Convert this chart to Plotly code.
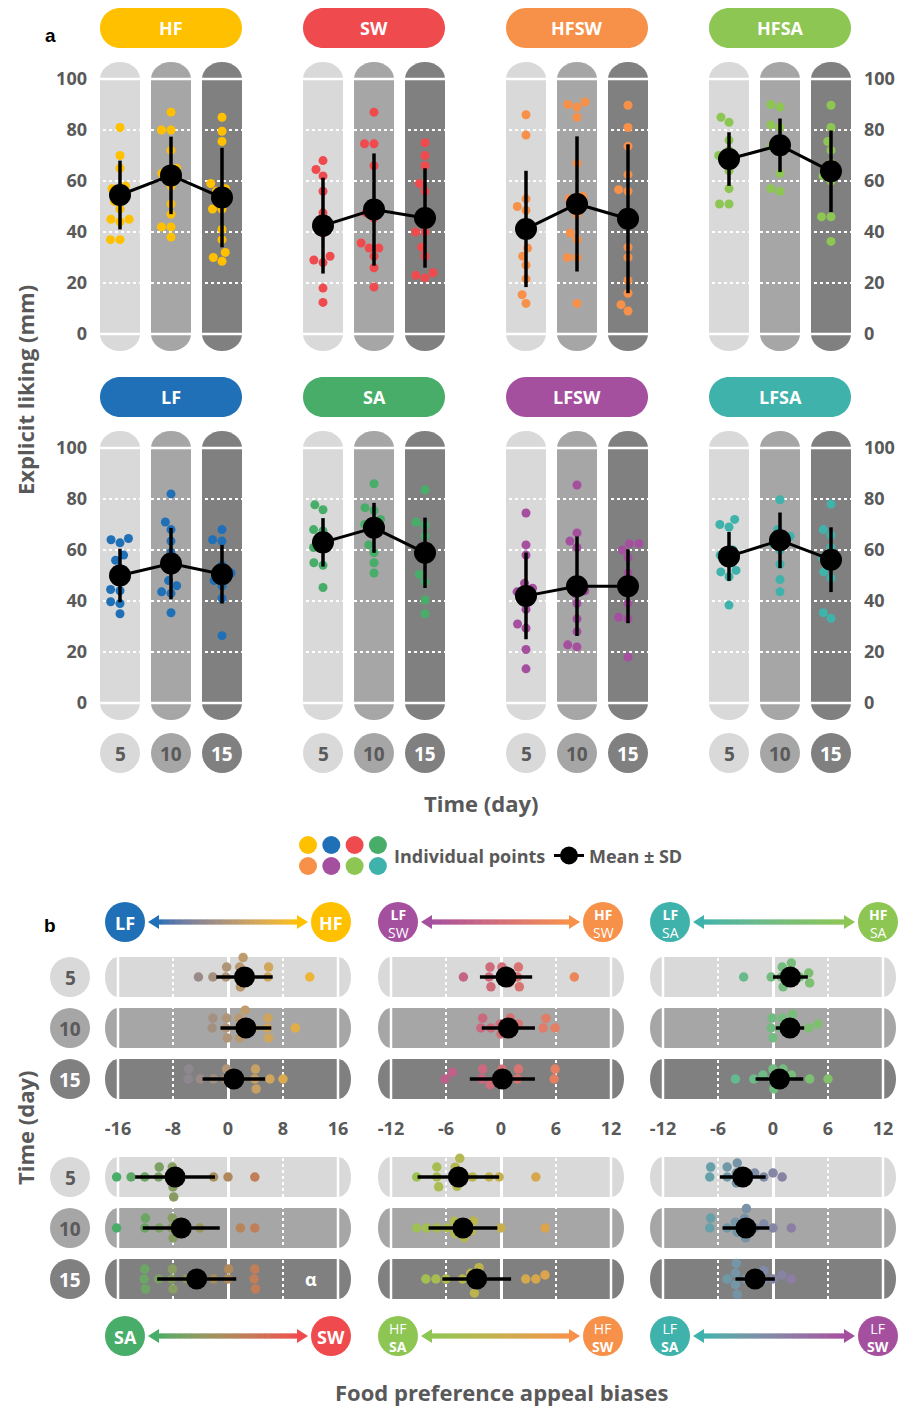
import math
import plotly.graph_objects as go

# ------------------------------------------------------------------
# Data
# ------------------------------------------------------------------
days = [5, 10, 15]
groups = ["HF", "SW", "HFSW", "HFSA", "LF", "SA", "LFSW", "LFSA"]
group_colors = ["#FFC000", "#EF4B4F", "#F7914A", "#8DC653",
                "#1F70B6", "#48AD69", "#A54F9F", "#3FB3AB"]

# (a) explicit liking (mm): individual points per day (5, 10, 15)
HF_points = [[81, 70, 65, 58, 57, 55, 52, 49, 45, 45, 44, 37, 37],
             [87, 80, 80, 72, 65, 63, 62, 58, 51, 47, 42, 42, 38],
             [85, 79.5, 75.5, 59, 57, 56, 53, 49, 49, 41, 37, 32, 30, 28.5]]
HF_mean = [54.5, 62.2, 53.5]
HF_sd = [13.5, 15.2, 19.5]

SW_points = [[68, 64.5, 62, 56, 47.5, 43, 39.6, 30.5, 29, 28, 18, 12.4],
             [87, 74.6, 74.6, 66, 47.5, 45.5, 35.7, 33.7, 33.7, 30.5, 26, 18.4],
             [75, 70, 66, 59, 56, 40, 40, 34, 30.5, 24, 23, 22]]
SW_mean = [42.5, 48.8, 45.5]
SW_sd = [18.8, 22.0, 19.5]

HFSW_points = [[86, 78, 53, 50, 48.5, 40, 33.7, 30.5, 27, 21.6, 15.4, 12],
               [91, 90, 89, 85, 67, 54, 53, 51, 47, 39.6, 37, 30, 30, 12],
               [89.7, 81, 73.6, 62.5, 56.6, 56, 34, 30, 21, 16, 11.5, 9]]
HFSW_mean = [41.2, 51.0, 45.2]
HFSW_sd = [22.8, 26.5, 29.2]

HFSA_points = [[85, 83, 76, 72, 70, 68, 67.5, 64, 57, 51, 51],
               [90, 89, 82, 81, 75, 73.6, 72, 63, 57, 56],
               [89.7, 81, 75.5, 72, 67, 63, 62, 60, 46, 46, 36.3]]
HFSA_mean = [68.6, 74.0, 63.8]
HFSA_sd = [10.5, 10.5, 16.0]

LF_points = [[64, 64.5, 62.8, 58, 56, 52.7, 44.5, 44, 39.7, 39, 35],
             [82, 71, 68, 63.5, 59, 52, 48, 46, 43.6, 43, 35.4],
             [68, 64, 63.5, 54, 51, 50, 48, 46, 41, 26.4]]
LF_mean = [50.0, 54.7, 50.5]
LF_sd = [10.5, 14.0, 11.5]

SA_points = [[77.7, 75.8, 68, 67.5, 64, 61, 60.5, 55, 54, 45.3],
             [86, 76.6, 75.5, 72, 70, 69.3, 62, 58.9, 55, 51],
             [83.6, 71, 69.7, 65.5, 59, 50.5, 47.5, 40.4, 35]]
SA_mean = [63.0, 68.7, 58.9]
SA_sd = [9.5, 9.8, 13.8]

LFSW_points = [[74.5, 62, 58, 47, 45, 43.6, 42.3, 36.7, 31, 29.3, 21, 13.4],
               [85.5, 66.7, 63.5, 61, 44, 42.7, 39, 33, 28, 22.8, 22],
               [62.5, 62.5, 60, 57, 51, 44, 39, 33.6, 33, 18]]
LFSW_mean = [42.0, 45.8, 45.8]
LFSW_sd = [17.0, 19.5, 14.5]

LFSA_points = [[72, 70, 69, 60, 58, 56.6, 52, 51.4, 49.5, 38.4],
               [79.7, 68, 65.4, 64.5, 62.5, 60, 54.4, 48.4, 43.6],
               [78, 68, 65.8, 61, 56.6, 54.7, 51.4, 49, 35.4, 33.2]]
LFSA_mean = [57.5, 63.8, 56.2]
LFSA_sd = [9.6, 10.9, 12.7]

# (b) food preference appeal biases, per day (5, 10, 15)
LF_HF_points = [[-4.3, -2.2, -0.3, -0.2, 1.7, 1.7, 1.8, 2.2, 3.0, 5.8, 5.9, 11.9],
                [-2.3, -2.2, -0.3, -0.2, -0.1, 1.5, 1.6, 1.7, 2.5, 3.7, 5.7, 5.8, 5.9, 9.8],
                [-5.8, -5.7, -4.0, -2.1, -0.3, -0.2, 1.7, 3.9, 4.0, 4.1, 6.1, 8.0]]
LF_HF_mean = [2.4, 2.6, 0.85]
LF_HF_sd = [4.1, 3.7, 4.55]

LFSW_HFSW_points = [[-4.1, -1.3, -1.2, -1.1, 0.0, 0.1, 0.9, 1.8, 1.9, 2.0, 8.0],
                    [-2.2, -2.0, -1.1, -0.1, 0.0, 0.9, 1.0, 1.9, 4.6, 4.9, 5.9],
                    [-6.1, -5.3, -2.1, -2.0, -1.2, -0.1, 0.1, 1.8, 1.9, 5.8, 5.9]]
LFSW_HFSW_mean = [0.55, 0.8, 0.15]
LFSW_HFSW_sd = [2.85, 2.9, 3.55]

LFSA_HFSA_points = [[-3.2, -0.2, 0.9, 1.0, 1.1, 1.9, 2.0, 2.9, 3.9, 4.0],
                    [-0.2, -0.1, 0.0, 0.9, 1.0, 1.9, 2.0, 2.1, 3.9, 4.9],
                    [-4.1, -2.1, -1.1, -0.1, 0.0, 0.1, 1.0, 1.1, 2.0, 4.0, 6.0]]
LFSA_HFSA_mean = [1.9, 1.85, 0.7]
LFSA_HFSA_sd = [1.9, 1.55, 2.6]

SA_SW_points = [[-16.2, -14.1, -12.1, -10.1, -10.0, -8.2, -8.1, -8.0, -7.9, -2.1, 0.0, 3.9],
                [-16.2, -12.1, -12.0, -10.0, -8.2, -8.1, -8.0, -6.0, -4.1, 1.8, 3.9],
                [-12.2, -12.1, -12.0, -10.1, -8.2, -8.1, -8.0, -6.0, -2.1, 0.0, 0.1, 3.8, 3.9, 4.0]]
SA_SW_mean = [-7.7, -6.8, -4.55]
SA_SW_sd = [5.8, 5.6, 5.75]

HFSA_HFSW_points = [[-9.2, -7.0, -7.0, -6.8, -5.2, -5.0, -4.8, -4.5, -3.1, -1.3, -0.2, 3.8],
                    [-9.2, -8.1, -7.0, -5.9, -5.1, -5.0, -4.2, -4.0, -3.2, -3.0, 0.0, 4.8],
                    [-8.2, -7.1, -6.0, -4.2, -3.3, -3.1, -2.9, -2.4, -2.2, 2.7, 3.8, 4.8]]
HFSA_HFSW_mean = [-4.65, -4.15, -2.65]
HFSA_HFSW_sd = [4.45, 3.75, 3.75]

LFSA_LFSW_points = [[-6.9, -6.8, -5.0, -5.0, -4.0, -4.0, -3.9, -3.0, -2.0, -1.0, 0.0, 1.0],
                    [-6.9, -6.8, -5.0, -4.1, -3.9, -3.1, -3.0, -2.9, -2.0, -1.0, 0.0, 2.0],
                    [-5.0, -4.1, -4.1, -4.0, -3.9, -3.0, -2.0, -1.1, -1.0, 0.0, 1.0, 2.0]]
LFSA_LFSW_mean = [-3.3, -2.95, -1.95]
LFSA_LFSW_sd = [2.5, 2.55, 2.15]

liking = {
    "HF": (HF_points, HF_mean, HF_sd), "SW": (SW_points, SW_mean, SW_sd),
    "HFSW": (HFSW_points, HFSW_mean, HFSW_sd), "HFSA": (HFSA_points, HFSA_mean, HFSA_sd),
    "LF": (LF_points, LF_mean, LF_sd), "SA": (SA_points, SA_mean, SA_sd),
    "LFSW": (LFSW_points, LFSW_mean, LFSW_sd), "LFSA": (LFSA_points, LFSA_mean, LFSA_sd),
}

# (left pole, right pole, axis half-range, points, mean, sd)
biases = [
    (("LF", ""), ("HF", ""), 16, LF_HF_points, LF_HF_mean, LF_HF_sd),
    (("LF", "SW"), ("HF", "SW"), 12, LFSW_HFSW_points, LFSW_HFSW_mean, LFSW_HFSW_sd),
    (("LF", "SA"), ("HF", "SA"), 12, LFSA_HFSA_points, LFSA_HFSA_mean, LFSA_HFSA_sd),
    (("SA", ""), ("SW", ""), 16, SA_SW_points, SA_SW_mean, SA_SW_sd),
    (("HF", "SA"), ("HF", "SW"), 12, HFSA_HFSW_points, HFSA_HFSW_mean, HFSA_HFSW_sd),
    (("LF", "SA"), ("LF", "SW"), 12, LFSA_LFSW_points, LFSA_LFSW_mean, LFSA_LFSW_sd),
]

# ------------------------------------------------------------------
# Styling helpers
# ------------------------------------------------------------------
W, H = 910, 1406
FONT = "'Open Sans', Lato, sans-serif"
TXT = "#595959"
BAR_COLS = ["#D9D9D9", "#A6A6A6", "#808080"]
DAY_TXT = ["#5A5A5A", "#5A5A5A", "#FFFFFF"]
K = 0.5523

color_of = dict(zip(groups, group_colors))


def fx(x):
    return x / W


def fy(y):
    return 1 - y / H


def _lin(c):
    c /= 255.0
    return c / 12.92 if c <= 0.04045 else ((c + 0.055) / 1.055) ** 2.4


def _gam(c):
    v = 12.92 * c if c <= 0.0031308 else 1.055 * max(c, 0) ** (1 / 2.4) - 0.055
    return int(round(max(0.0, min(1.0, v)) * 255))


def hex_rgb(h):
    h = h.lstrip("#")
    return tuple(int(h[i:i + 2], 16) for i in (0, 2, 4))


def to_lab(h):
    r, g, b = [_lin(c) for c in hex_rgb(h)]
    X = (0.4124 * r + 0.3576 * g + 0.1805 * b) / 0.95047
    Y = 0.2126 * r + 0.7152 * g + 0.0722 * b
    Z = (0.0193 * r + 0.1192 * g + 0.9505 * b) / 1.08883
    f = lambda t: t ** (1 / 3) if t > 0.008856 else 7.787 * t + 16 / 116
    return (116 * f(Y) - 16, 500 * (f(X) - f(Y)), 200 * (f(Y) - f(Z)))


def from_lab(L, a, b):
    fy_ = (L + 16) / 116
    fx_ = fy_ + a / 500
    fz_ = fy_ - b / 200
    inv = lambda t: t ** 3 if t ** 3 > 0.008856 else (t - 16 / 116) / 7.787
    X, Y, Z = 0.95047 * inv(fx_), inv(fy_), 1.08883 * inv(fz_)
    r = 3.2406 * X - 1.5372 * Y - 0.4986 * Z
    g = -0.9689 * X + 1.8758 * Y + 0.0415 * Z
    bb = 0.0557 * X - 0.2040 * Y + 1.0570 * Z
    return "rgb(%d,%d,%d)" % (_gam(r), _gam(g), _gam(bb))


def blend(c1, c2, t):
    t = max(0.0, min(1.0, t))
    l1, l2 = to_lab(c1), to_lab(c2)
    return from_lab(*[a + (b - a) * t for a, b in zip(l1, l2)])


def pole_color(p):
    return color_of[p[0] + p[1]]


def rrect(x0, y0, x1, y1, rx, ry):
    """Rounded rectangle as an SVG path (works in any coordinate system)."""
    sx = 1 if x1 > x0 else -1
    sy = 1 if y1 > y0 else -1
    rx, ry = rx * sx, ry * sy
    pts = [
        ("M", [(x0 + rx, y0)]),
        ("L", [(x1 - rx, y0)]),
        ("C", [(x1 - rx + K * rx, y0), (x1, y0 + ry - K * ry), (x1, y0 + ry)]),
        ("L", [(x1, y1 - ry)]),
        ("C", [(x1, y1 - ry + K * ry), (x1 - rx + K * rx, y1), (x1 - rx, y1)]),
        ("L", [(x0 + rx, y1)]),
        ("C", [(x0 + rx - K * rx, y1), (x0, y1 - ry + K * ry), (x0, y1 - ry)]),
        ("L", [(x0, y0 + ry)]),
        ("C", [(x0, y0 + ry - K * ry), (x0 + rx - K * rx, y0), (x0 + rx, y0)]),
    ]
    s = ""
    for cmd, ps in pts:
        s += cmd + " ".join("%.5f,%.5f" % p for p in ps) + " "
    return s + "Z"


def rrect_px(x0, y0, x1, y1, r):
    p = rrect(x0, y0, x1, y1, r, r)
    # convert pixel path into paper coordinates
    out = []
    for tok in p.split(" "):
        if "," in tok:
            cmd = ""
            if tok[0].isalpha():
                cmd, tok = tok[0], tok[1:]
            a, b = tok.split(",")
            out.append("%s%.6f,%.6f" % (cmd, fx(float(a)), fy(float(b))))
        else:
            out.append(tok)
    return " ".join(out)


def swarm(vals_px, D):
    """Beeswarm offsets (px) perpendicular to the value axis."""
    order = sorted(range(len(vals_px)), key=lambda i: vals_px[i])
    placed, offs = [], [0.0] * len(vals_px)
    for i in order:
        v = vals_px[i]
        forb = []
        for pv, po in placed:
            dv = abs(v - pv)
            if dv < D:
                w = math.sqrt(D * D - dv * dv)
                forb.append((po - w, po + w))
        cands = [0.0] + [a for a, _ in forb] + [b for _, b in forb]
        cands.sort(key=lambda t: (abs(t), t))
        for c in cands:
            if all(not (a + 1e-6 < c < b - 1e-6) for a, b in forb):
                offs[i] = c
                break
        placed.append((v, offs[i]))
    return offs


shapes, annotations, traces = [], [], []
layout_axes = {}


def text(x, y, s, size, color=TXT, weight="bold", angle=0, family=FONT,
         xanchor="center", yanchor="middle"):
    annotations.append(dict(x=fx(x), y=fy(y), xref="paper", yref="paper", text=s,
                            showarrow=False, textangle=angle, xanchor=xanchor,
                            yanchor=yanchor,
                            font=dict(family=family, size=size, color=color,
                                      weight=weight)))


def circle(cx, cy, r, color):
    shapes.append(dict(type="circle", xref="paper", yref="paper",
                       x0=fx(cx - r), x1=fx(cx + r), y0=fy(cy + r), y1=fy(cy - r),
                       fillcolor=color, line=dict(width=0), layer="above"))


def axis_ids(n):
    s = "" if n == 1 else str(n)
    return "xaxis" + s, "yaxis" + s, "x" + s, "y" + s


# ------------------------------------------------------------------
# Panel a: liking over time
# ------------------------------------------------------------------
A_X0, A_STEP, A_BW, A_GAP = 100, 203, 40, 51
A_ZERO, A_PPU, A_PAD, A_CAP = [334, 703], 2.55, 26, 17

for g, name in enumerate(groups):
    r, c = divmod(g, 4)
    n = g + 1
    xa, ya, xr, yr = axis_ids(n)
    x0 = A_X0 + A_STEP * c
    hw = A_BW / 2 / A_GAP
    slack = 3 / A_GAP
    layout_axes[xa] = dict(domain=[fx(x0 - 3), fx(x0 + 142 + 3)],
                           range=[-hw - slack, 2 + hw + slack], anchor=yr,
                           showgrid=False, zeroline=False, showticklabels=False,
                           showline=False, ticks="", fixedrange=True)
    zero = A_ZERO[r]
    top = zero - 100 * A_PPU
    side = "right" if c == 3 else "left"
    layout_axes[ya] = dict(domain=[fy(zero + A_PAD), fy(top - A_PAD)],
                           range=[-A_PAD / A_PPU, 100 + A_PAD / A_PPU], anchor=xr,
                           tickvals=[0, 20, 40, 60, 80, 100], showgrid=True,
                           gridcolor="white", griddash="dot", gridwidth=2,
                           zeroline=False, showline=False, ticks="",
                           showticklabels=(c in (0, 3)), side=side,
                           ticklabelstandoff=9,
                           tickfont=dict(family=FONT, size=18, color=TXT,
                                         weight="bold"), fixedrange=True)
    ch = A_CAP / A_PPU
    for i in range(3):
        shapes.append(dict(type="path", xref=xr, yref=yr, layer="below",
                           path=rrect(i - hw, -ch, i + hw, 100 + ch, hw, ch),
                           fillcolor=BAR_COLS[i], line=dict(width=0)))
        for yv in (0, 100):
            shapes.append(dict(type="line", xref=xr, yref=yr, layer="below",
                               x0=i - hw, x1=i + hw, y0=yv, y1=yv,
                               line=dict(color="white", width=2.5)))

    # group header pill
    py0 = 8 + 369 * r
    shapes.append(dict(type="path", xref="paper", yref="paper", layer="above",
                       path=rrect_px(x0, py0, x0 + 142, py0 + 40, 20),
                       fillcolor=color_of[name], line=dict(width=0)))
    text(x0 + 71, py0 + 20, name, 18, "white")

    pts, mean, sd = liking[name]
    xs, ys = [], []
    for i, vals in enumerate(pts):
        offs = swarm([v * A_PPU for v in vals], 9.5)
        xs += [i + o / A_GAP for o in offs]
        ys += vals
    traces.append(go.Scatter(x=xs, y=ys, xaxis=xr, yaxis=yr, mode="markers",
                             marker=dict(size=9, color=color_of[name]),
                             hoverinfo="skip", cliponaxis=False))
    traces.append(go.Scatter(x=[0, 1, 2], y=mean, xaxis=xr, yaxis=yr,
                             mode="lines+markers",
                             line=dict(color="black", width=3),
                             marker=dict(size=22, color="black"),
                             error_y=dict(type="data", array=sd, color="black",
                                          thickness=3.5, width=0),
                             hoverinfo="skip", cliponaxis=False))

    if r == 1:
        for i, d in enumerate(days):
            cx = x0 + A_BW / 2 + A_GAP * i
            circle(cx, 753, 20, BAR_COLS[i])
            text(cx, 754, str(d), 19, DAY_TXT[i])

text(25, 390, "Explicit liking (mm)", 22, angle=-90)
text(481, 803, "Time (day)", 22)
text(50, 35, "a", 19, "black", family="'Liberation Sans', Arial, sans-serif")

# legend
leg_cols = ["HF", "LF", "SW", "SA", "HFSW", "LFSW", "HFSA", "LFSA"]
for k, nm in enumerate(leg_cols):
    rr, cc = divmod(k, 4)
    circle(308 + 23.3 * cc, 845 + 21 * rr, 9, color_of[nm])
text(392, 856, "Individual points", 18, xanchor="left")
shapes.append(dict(type="line", xref="paper", yref="paper", layer="above",
                   x0=fx(554), x1=fx(584), y0=fy(855.5), y1=fy(855.5),
                   line=dict(color="black", width=3)))
circle(569, 855.5, 9, "black")
text(587, 856, "Mean \u00b1 SD", 18, xanchor="left")

# ------------------------------------------------------------------
# Panel b: appeal biases
# ------------------------------------------------------------------
B_X0, B_W, B_ROW0, B_STEP, B_HALF, B_CAP = [118, 391, 663], 220, [977, 1177], 51, 20, 13
B_ARROW_Y = [922, 1336]
B_POLES = {0: (125, 331), 1: (398, 603), 2: (670, 878)}

for idx, (lp, rp, R, pts, mean, sd) in enumerate(biases):
    blk, c = divmod(idx, 3)
    n = 9 + idx
    xa, ya, xr, yr = axis_ids(n)
    s = B_W / (2 * R)
    x0 = B_X0[c]
    pad = B_CAP + 4
    layout_axes[xa] = dict(domain=[fx(x0 - pad), fx(x0 + B_W + pad)],
                           range=[-R - pad / s, R + pad / s], anchor=yr,
                           tickvals=[-R, -R / 2, 0, R / 2, R],
                           ticktext=[str(int(v)) for v in (-R, -R / 2, 0, R / 2, R)],
                           showgrid=True, gridcolor="white", griddash="dot",
                           gridwidth=2, zeroline=True, zerolinecolor="white",
                           zerolinewidth=2.5, showline=False, ticks="",
                           showticklabels=(blk == 0), ticklabelstandoff=6,
                           tickfont=dict(family=FONT, size=18, color=TXT,
                                         weight="bold"), fixedrange=True)
    row0 = B_ROW0[blk]
    layout_axes[ya] = dict(domain=[fy(row0 + 2.6 * B_STEP), fy(row0 - 0.6 * B_STEP)],
                           range=[2.6, -0.6], anchor=xr, showgrid=False,
                           zeroline=False, showticklabels=False, showline=False,
                           ticks="", fixedrange=True)
    hh = B_HALF / B_STEP
    cw = B_CAP / s
    for i in range(3):
        shapes.append(dict(type="path", xref=xr, yref=yr, layer="below",
                           path=rrect(-R - cw, i - hh, R + cw, i + hh, cw, hh),
                           fillcolor=BAR_COLS[i], line=dict(width=0)))
        for xv in (-R, R):
            shapes.append(dict(type="line", xref=xr, yref=yr, layer="below",
                               x0=xv, x1=xv, y0=i - hh, y1=i + hh,
                               line=dict(color="white", width=2.5)))

    lc, rc = pole_color(lp), pole_color(rp)
    xs, ys, cols = [], [], []
    for i, vals in enumerate(pts):
        offs = swarm([v * s for v in vals], 10)
        xs += vals
        ys += [i + o / B_STEP for o in offs]
        cols += [blend(lc, rc, (v + R) / (2 * R)) for v in vals]
    traces.append(go.Scatter(x=xs, y=ys, xaxis=xr, yaxis=yr, mode="markers",
                             marker=dict(size=9.5, color=cols),
                             hoverinfo="skip", cliponaxis=False))
    traces.append(go.Scatter(x=mean, y=[0, 1, 2], xaxis=xr, yaxis=yr,
                             mode="markers", marker=dict(size=21, color="black"),
                             error_x=dict(type="data", array=sd, color="black",
                                          thickness=3.5, width=0),
                             hoverinfo="skip", cliponaxis=False))

    # gradient arrow between the two poles
    ay = B_ARROW_Y[blk]
    lx, rx_ = B_POLES[c]
    tip_l, tip_r = lx + 23, rx_ - 23
    head = 11
    nseg = 60
    seg = (tip_r - tip_l - 2 * head) / nseg
    for j in range(nseg):
        xa0 = tip_l + head + j * seg
        shapes.append(dict(type="rect", xref="paper", yref="paper", layer="above",
                           x0=fx(xa0 - 0.3), x1=fx(xa0 + seg + 0.3),
                           y0=fy(ay + 2.6), y1=fy(ay - 2.6),
                           fillcolor=blend(lc, rc, (j + 0.5) / nseg),
                           line=dict(width=0)))
    for tip, base, col in ((tip_l, tip_l + head, lc), (tip_r, tip_r - head, rc)):
        shapes.append(dict(type="path", xref="paper", yref="paper", layer="above",
                           path="M%.6f,%.6f L%.6f,%.6f L%.6f,%.6f Z" % (
                               fx(tip), fy(ay), fx(base), fy(ay - 7),
                               fx(base), fy(ay + 7)),
                           fillcolor=col, line=dict(width=0)))
    for (cx, p, col) in ((lx, lp, lc), (rx_, rp, rc)):
        circle(cx, ay, 20, col)
        if p[1] == "":
            text(cx, ay + 1, p[0], 18, "white")
        else:
            # the factor being contrasted is set in bold
            if blk == 0:
                label = "<b>%s</b><br>%s" % p
            else:
                label = "%s<br><b>%s</b>" % p
            text(cx, ay + 1, label, 14, "white", weight="normal")

    if c == 0:
        for i, d in enumerate(days):
            circle(70, row0 + B_STEP * i, 20, BAR_COLS[i])
            text(70, row0 + B_STEP * i + 1, str(d), 19, DAY_TXT[i])

# significance mark on day 15 of the SA/SW bias
annotations.append(dict(x=12, y=2, xref="x12", yref="y12", text="\u03b1",
                        showarrow=False,
                        font=dict(family=FONT, size=18, color="white",
                                  weight="bold")))

text(50, 925, "b", 19, "black", family="'Liberation Sans', Arial, sans-serif")
text(25, 1128, "Time (day)", 22, angle=-90)
text(502, 1392, "Food preference appeal biases", 22)

fig = go.Figure(traces)
fig.update_layout(width=W, height=H, margin=dict(l=0, r=0, t=0, b=0),
                  paper_bgcolor="white", plot_bgcolor="rgba(0,0,0,0)",
                  showlegend=False, shapes=shapes, annotations=annotations,
                  font=dict(family=FONT, color=TXT), **layout_axes)
fig.write_html("out.html")
